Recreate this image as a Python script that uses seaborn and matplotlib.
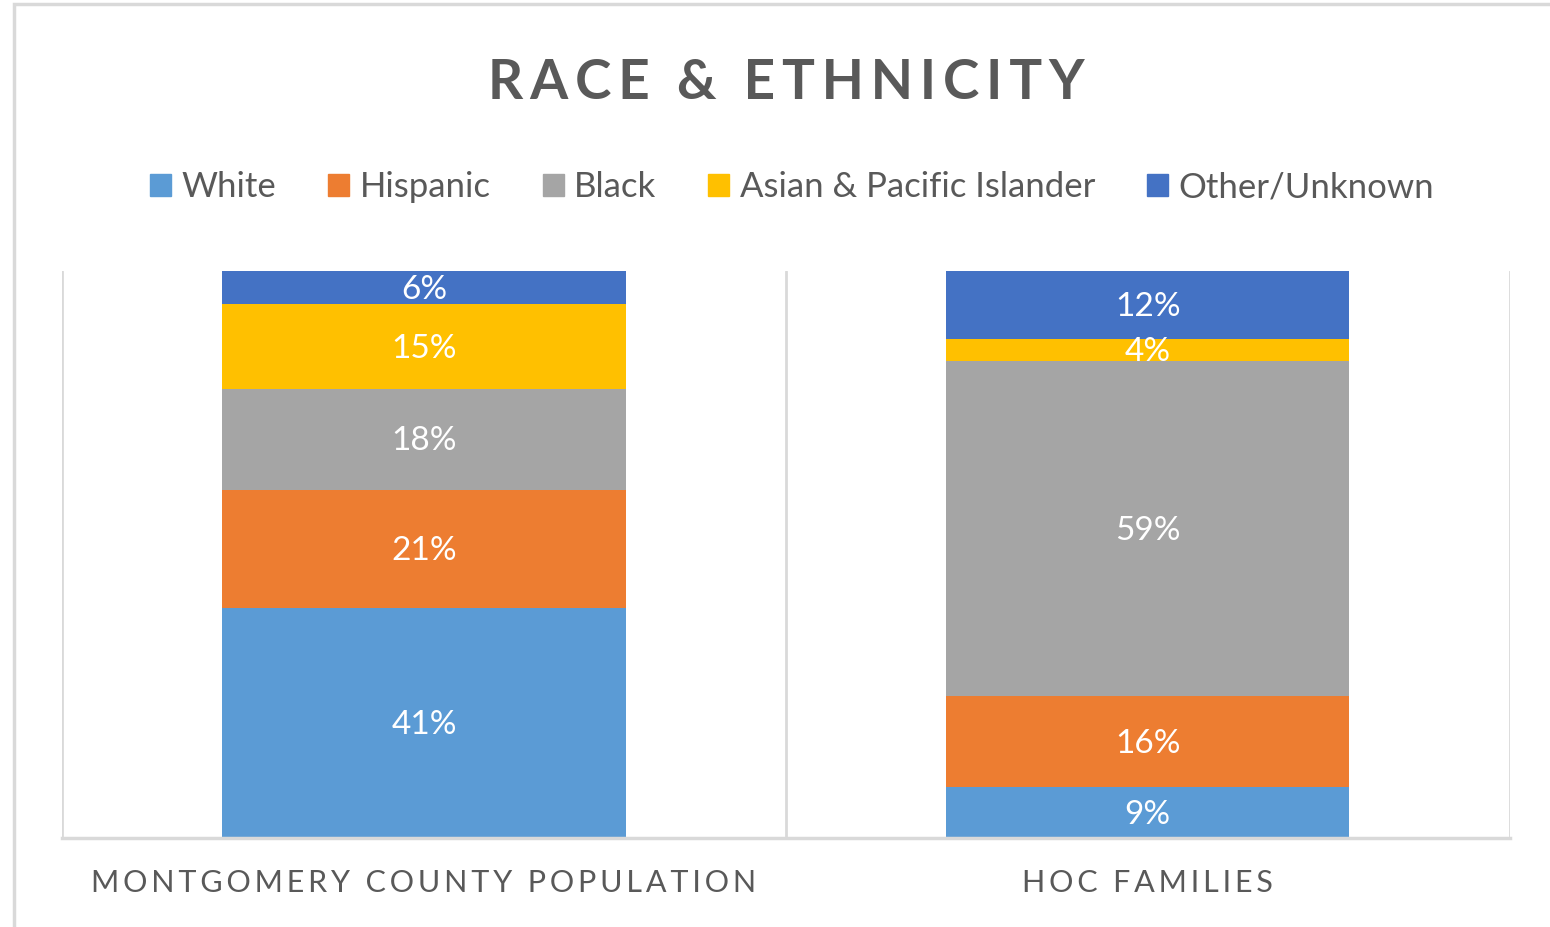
import matplotlib
matplotlib.use("Agg")
import matplotlib.pyplot as plt
import matplotlib.patches as mpatches
import pandas as pd
import seaborn as sns

# groups on the x axis
groups = ["Montgomery County Population", "HOC Families"]

# race / ethnicity categories, bottom of the stack first
races = ["White", "Hispanic", "Black", "Asian & Pacific Islander", "Other/Unknown"]

# percentages
county = [41, 21, 18, 15, 6]
hoc = [9, 16, 59, 4, 12]

colors = ["#5B9BD5", "#ED7D31", "#A5A5A5", "#FFC000", "#4472C4"]

df = pd.DataFrame({
    "group": [groups[0]] * len(races) + [groups[1]] * len(races),
    "race": races + races,
    "pct": county + hoc,
})

sns.set_style("white")
plt.rcParams["font.family"] = ["Lato", "DejaVu Sans"]

fig = plt.figure(figsize=(15.5, 9.27), dpi=100)
ax = fig.add_axes([0.04, 0.096, 0.934, 0.612])

# seaborn stacks the first hue level on top, so reverse the order
sns.histplot(data=df, x="group", hue="race", weights="pct", multiple="fill",
             hue_order=races[::-1], palette=dict(zip(races, colors)),
             discrete=True, shrink=0.557, alpha=1, linewidth=0,
             legend=False, ax=ax)

# data labels in the middle of each segment
for bar in ax.patches:
    h = bar.get_height()
    if h <= 0:
        continue
    ax.text(bar.get_x() + bar.get_width() / 2, bar.get_y() + h / 2 - 0.004,
            f"{h * 100:.0f}%", ha="center", va="center",
            color="white", fontsize=24)

ax.set_xlim(-0.5, 1.5)
ax.set_ylim(0, 1)
ax.set_yticks([])
ax.set_ylabel("")
ax.set_xlabel("")

spaced = ["\u2009".join(g.upper()) for g in groups]
spaced = [s.replace("\u2009 \u2009", "  ") for s in spaced]
ax.set_xticks([0, 1])
ax.set_xticklabels(spaced, fontsize=22, color="#595959")
ax.tick_params(axis="x", length=0, pad=22)

ax.set_xticks([-0.5, 0.5, 1.5], minor=True)
ax.tick_params(axis="x", which="minor", length=0)
ax.grid(which="minor", axis="x", color="#D9D9D9", linewidth=2)
ax.grid(which="major", visible=False)
for side in ["top", "left", "right"]:
    ax.spines[side].set_visible(False)
ax.spines["bottom"].set_color("#D9D9D9")
ax.spines["bottom"].set_linewidth(2.5)

# legend in its own row under the title
handles = [mpatches.Patch(color=c, label=r) for r, c in zip(races, colors)]
fig.legend(handles=handles, loc="center", bbox_to_anchor=(0.511, 0.798),
           ncol=5, frameon=False, fontsize=25, labelcolor="#595959",
           handlelength=0.6, handleheight=0.6, handletextpad=0.3,
           columnspacing=1.5)

title = "\u2009".join("RACE & ETHNICITY")
fig.text(0.507, 0.91, title, ha="center", va="center", fontsize=39.5,
         fontweight="bold", color="#595959")

# light chart border, cut off at the right and bottom like the screenshot
fig.patches.append(mpatches.Rectangle((0.009, -0.2), 1.5, 1.196,
                                      transform=fig.transFigure, fill=False,
                                      edgecolor="#D9D9D9", linewidth=2.5))

fig.savefig("out.png", dpi=100, facecolor="white")
